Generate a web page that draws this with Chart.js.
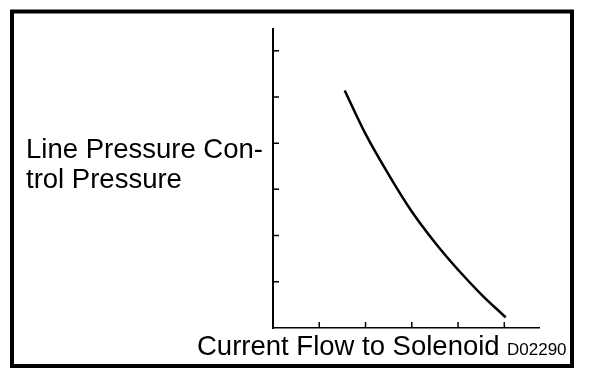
<!DOCTYPE html>
<html>
<head>
<meta charset="utf-8">
<script src="https://cdn.jsdelivr.net/npm/chart.js@4"></script>
<style>
  html, body { margin: 0; padding: 0; background: #fff; }
  #wrap { width: 608px; height: 382px; }
</style>
</head>
<body>
<div id="wrap"><canvas id="solenoidChart" width="608" height="382"></canvas></div>
<script>
// values (no units on the original, so arbitrary)
const currentFlow = [1.55, 2.0, 2.5, 3.0, 3.5, 4.0, 4.5, 5.03];
const linePressure = [5.14, 4.20, 3.32, 2.52, 1.85, 1.26, 0.73, 0.23];
const xTicks = [1, 2, 3, 4, 5];
const yTicks = [1, 2, 3, 4, 5, 6];
const yLabelLines = ['Line Pressure Con-', 'trol Pressure'];
const xLabel = 'Current Flow to Solenoid';
const figCode = 'D02290';

const points = currentFlow.map((x, i) => ({ x: x, y: linePressure[i] }));

// frame, inner ticks and the texts
const decorPlugin = {
    id: 'decor',
    afterDraw(chart) {
        const ctx = chart.ctx;
        const xs = chart.scales.x;
        const ys = chart.scales.y;
        ctx.save();
        ctx.strokeStyle = '#000';

        // outer frame
        ctx.lineWidth = 4;
        ctx.strokeRect(12, 11.5, 560, 354.5);

        // ticks pointing into the plot
        ctx.lineWidth = 1.5;
        ctx.beginPath();
        xTicks.forEach(v => {
            const px = xs.getPixelForValue(v);
            ctx.moveTo(px, chart.chartArea.bottom);
            ctx.lineTo(px, chart.chartArea.bottom - 6);
        });
        yTicks.forEach(v => {
            const py = ys.getPixelForValue(v);
            ctx.moveTo(chart.chartArea.left - 1, py);
            ctx.lineTo(chart.chartArea.left + 6, py);
        });
        ctx.stroke();

        ctx.fillStyle = '#000';
        ctx.textBaseline = 'alphabetic';
        ctx.textAlign = 'left';
        ctx.font = '27.5px "Liberation Sans", Arial, sans-serif';
        ctx.fillText(yLabelLines[0], 26, 158);
        ctx.fillText(yLabelLines[1], 26, 188);
        ctx.fillText(xLabel, 197, 355);
        ctx.font = '17px "Liberation Sans", Arial, sans-serif';
        ctx.fillText(figCode, 507, 355);
        ctx.restore();
    }
};

new Chart(document.getElementById('solenoidChart'), {
    type: 'scatter',
    data: {
        datasets: [{
            data: points,
            showLine: true,
            borderColor: '#000',
            borderWidth: 2.5,
            pointRadius: 0,
            cubicInterpolationMode: 'monotone'
        }]
    },
    options: {
        responsive: false,
        animation: false,
        events: [],
        layout: { padding: { left: 273, right: 69, top: 29, bottom: 54 } },
        plugins: { legend: { display: false }, tooltip: { enabled: false } },
        scales: {
            x: {
                type: 'linear',
                min: 0,
                max: 5.75,
                ticks: { display: false, stepSize: 1 },
                grid: { display: false, drawTicks: false },
                border: { display: true, color: '#000', width: 1.5 }
            },
            y: {
                type: 'linear',
                min: 0,
                max: 6.47,
                ticks: { display: false, stepSize: 1 },
                grid: { display: false, drawTicks: false },
                border: { display: true, color: '#000', width: 2 }
            }
        }
    },
    plugins: [decorPlugin]
});
</script>
</body>
</html>
